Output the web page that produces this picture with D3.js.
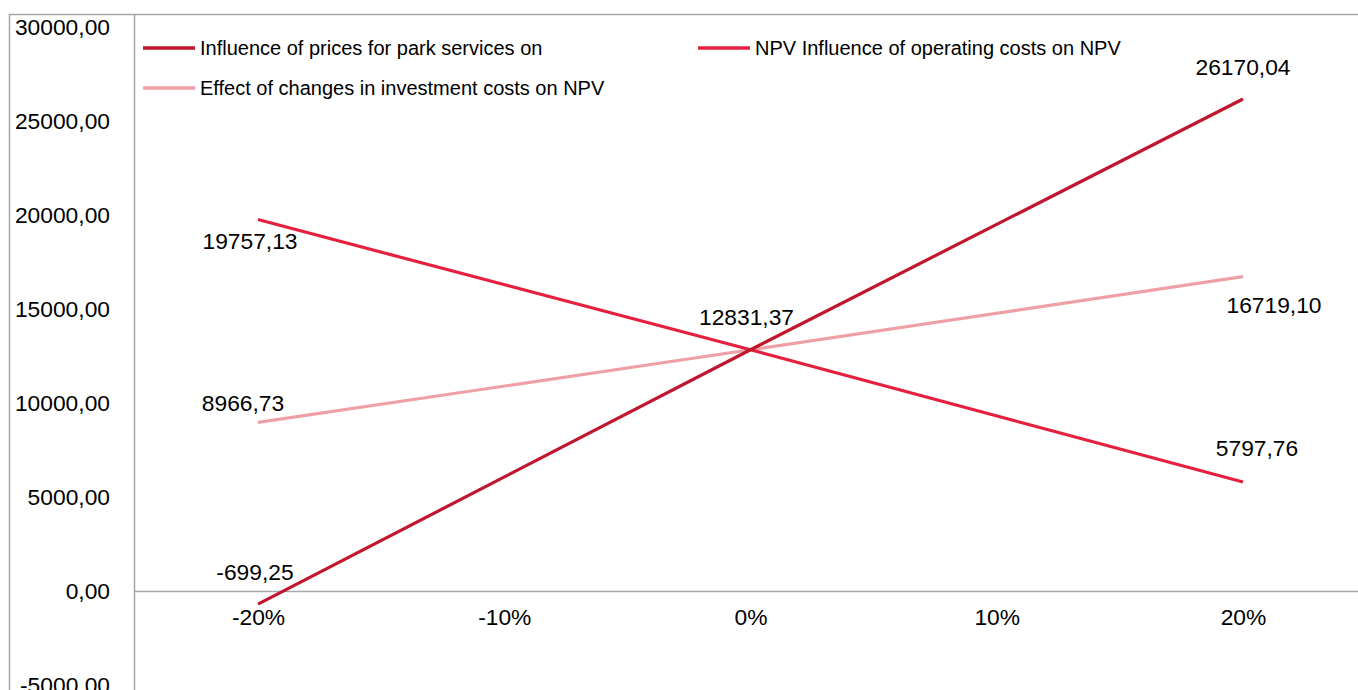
<!DOCTYPE html>
<html>
<head>
<meta charset="utf-8">
<script src="https://cdn.jsdelivr.net/npm/d3@7"></script>
<style>
  html, body { margin: 0; padding: 0; background: #fff; overflow: hidden; }
  svg { display: block; font-family: "Liberation Sans", Arial, sans-serif; }
</style>
</head>
<body>
<svg id="chart" width="1358" height="690"></svg>
<script>
// Sensitivity of NPV to parameter changes
const categories = ["-20%", "-10%", "0%", "10%", "20%"];
const yTicks = [-5000, 0, 5000, 10000, 15000, 20000, 25000, 30000];

// Values are known at -20%, 0% and +20%
const pointCategories = ["-20%", "0%", "20%"];
const pricesValues = [-699.25, 12831.37, 26170.04];
const operatingValues = [19757.13, 12831.37, 5797.76];
const investmentValues = [8966.73, 12831.37, 16719.10];

const seriesNames = [
  "Influence of prices for park services on",
  "NPV Influence of operating costs on NPV",
  "Effect of changes in investment costs on NPV"
];

const colors = ["#c0172f", "#e5213f", "#eea0a6"];

const series = [
  { name: seriesNames[0], values: pricesValues, color: colors[0] },
  { name: seriesNames[1], values: operatingValues, color: colors[1] },
  { name: seriesNames[2], values: investmentValues, color: colors[2] }
];

// label offsets (dx, dy) per series and point; null = no label
const labelOffsets = [
  [[-3, -32], [-4, -33], [0, -32]],
  [[-8, 21], null, [14, -34]],
  [[-15, -19], null, [31, 28]]
];

const locale = d3.formatLocale({ decimal: ",", thousands: "", grouping: [3], currency: ["", ""], minus: "-" });
const fmt = locale.format(".2f");

const svg = d3.select("#chart");
const frameLeft = 9, frameTop = 14;
const axisX = 134;

const x = d3.scalePoint().domain(categories).range([258, 1243]);
const y = d3.scaleLinear().domain([-5000, 30000]).range([685, 27]);

const grey = "#a6a6a6";
const fontSize = 22.8;

// outer frame
svg.append("line").attr("x1", frameLeft + 0.5).attr("x2", frameLeft + 0.5)
  .attr("y1", frameTop).attr("y2", 690).attr("stroke", grey).attr("stroke-width", 1.5);
svg.append("line").attr("x1", frameLeft).attr("x2", 1358)
  .attr("y1", frameTop + 0.5).attr("y2", frameTop + 0.5).attr("stroke", grey).attr("stroke-width", 1.5);

// y axis
const yAxis = d3.axisLeft(y).tickValues(yTicks).tickSize(0).tickPadding(24)
  .tickFormat(d => fmt(d));
const gy = svg.append("g").attr("transform", `translate(${axisX},0)`).call(yAxis);
gy.select(".domain").remove();
gy.selectAll("text").attr("font-size", fontSize).attr("fill", "#000")
  .attr("font-family", "Liberation Sans, Arial, sans-serif");
svg.append("line").attr("x1", axisX + 0.5).attr("x2", axisX + 0.5)
  .attr("y1", frameTop).attr("y2", 690).attr("stroke", grey).attr("stroke-width", 1.5);

// x axis along zero
const xAxis = d3.axisBottom(x).tickSize(0).tickPadding(18);
const gx = svg.append("g").attr("transform", `translate(0,${y(0)})`).call(xAxis);
gx.select(".domain").remove();
gx.selectAll("text").attr("font-size", fontSize).attr("fill", "#000")
  .attr("font-family", "Liberation Sans, Arial, sans-serif");
svg.append("line").attr("x1", axisX).attr("x2", 1358)
  .attr("y1", Math.round(y(0)) + 0.5).attr("y2", Math.round(y(0)) + 0.5)
  .attr("stroke", grey).attr("stroke-width", 1.5);

// lines
const line = d3.line().x(d => x(d.c)).y(d => y(d.v));
series.forEach(s => {
  s.pts = s.values.map((v, i) => ({ c: pointCategories[i], v }));
});
[2, 1, 0].forEach(i => {
  const s = series[i];
  svg.append("path").datum(s.pts).attr("d", line)
    .attr("fill", "none").attr("stroke", s.color).attr("stroke-width", 3.2);
});

// data labels
series.forEach((s, si) => {
  s.pts.forEach((p, pi) => {
    const off = labelOffsets[si][pi];
    if (!off) return;
    svg.append("text")
      .attr("x", x(p.c) + off[0]).attr("y", y(p.v) + off[1])
      .attr("text-anchor", "middle").attr("dominant-baseline", "central")
      .attr("font-size", fontSize).attr("fill", "#000")
      .text(fmt(p.v));
  });
});

// legend
const legendItems = [
  { s: series[0], x: 143, y: 48 },
  { s: series[1], x: 698, y: 48 },
  { s: series[2], x: 143, y: 88 }
];
legendItems.forEach(it => {
  const g = svg.append("g").attr("transform", `translate(${it.x},${it.y})`);
  g.append("line").attr("x1", 0).attr("x2", 52).attr("y1", 0).attr("y2", 0)
    .attr("stroke", it.s.color).attr("stroke-width", 3.5);
  g.append("text").attr("x", 57).attr("y", 0).attr("dominant-baseline", "central")
    .attr("font-size", 20).attr("fill", "#000").text(it.s.name);
});
</script>
</body>
</html>
